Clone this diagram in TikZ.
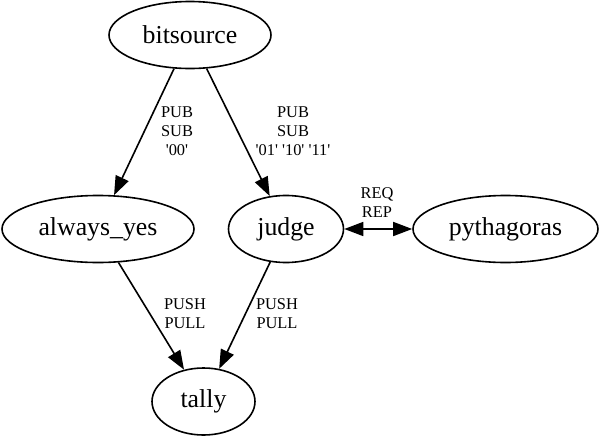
\documentclass[tikz,border=0pt]{standalone}
\usepackage{fontspec}
\newfontfamily\gvfont{Liberation Serif}
\usetikzlibrary{arrows.meta,shapes.geometric}
\tikzset{
  zmq/.style={draw, ellipse, line width=1.6pt, minimum height=67pt, inner sep=0pt,
    font=\gvfont\fontsize{25.8}{30}\selectfont},
  sock/.style={font=\gvfont\fontsize{16.4}{19}\selectfont, align=center, inner sep=0pt},
  link/.style={line width=1.6pt, -{Triangle[length=19pt,width=14pt]}},
  twoway/.style={line width=1.6pt, {Triangle[length=19pt,width=14pt]}-{Triangle[length=19pt,width=14pt]}},
}
\begin{document}
\begin{tikzpicture}[x=1pt,y=-1pt]
    \useasboundingbox (0,0) rectangle (600,437);

    % 绘制节点
    \node[zmq, minimum width=162pt] (bitsource) at (190,35) {bitsource};
    \node[zmq, minimum width=192pt] (alwaysyes) at (98,229) {always\_yes};
    \node[zmq, minimum width=115pt] (judge) at (286,229) {judge};
    \node[zmq, minimum width=185pt] (pythagoras) at (505.5,229) {pythagoras};
    \node[zmq, minimum width=103pt] (tally) at (203.5,401.5) {tally};

    % 绘制连线
    \draw[link] (bitsource) -- (alwaysyes);
    \draw[link] (bitsource) -- (judge);
    \draw[twoway] (judge) -- (pythagoras);
    \draw[link] (alwaysyes) -- (tally);
    \draw[link] (judge) -- (tally);

    % 标注套接字
    \node[sock] (pubsubzero) at (177,131) {PUB\\SUB\\'00'};
    \node[sock] (pubsubrest) at (293,131) {PUB\\SUB\\'01' '10' '11'};
    \node[sock] (reqrep) at (377,202.5) {REQ\\REP};
    \node[sock] (pushpullleft) at (185,314) {PUSH\\PULL};
    \node[sock] (pushpullright) at (277,314) {PUSH\\PULL};
\end{tikzpicture}
\end{document}
